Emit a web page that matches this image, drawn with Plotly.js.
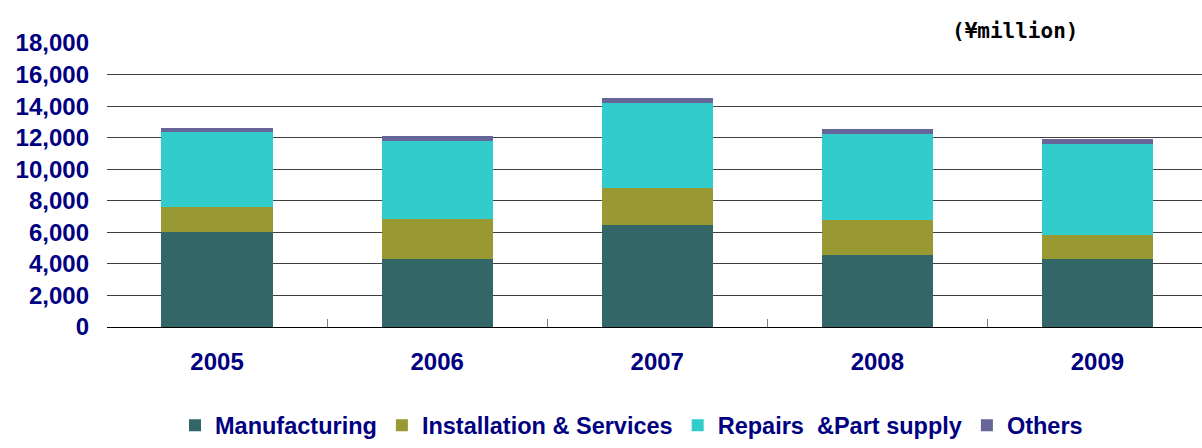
<!DOCTYPE html>
<html>
<head>
<meta charset="utf-8">
<script src="https://cdn.plot.ly/plotly-3.0.1.min.js"></script>
<style>html,body{margin:0;padding:0;overflow:hidden;background:#fff}</style>
</head>
<body>
<div id="chart" style="width:1202px;height:448px"></div>
<script>
const years = ["2005", "2006", "2007", "2008", "2009"];
const manufacturing = [6020, 4310, 6465, 4560, 4310];
const installation = [1585, 2535, 2365, 2240, 1520];
const repairs = [4750, 4945, 5365, 5430, 5770];
const others = [255, 315, 315, 315, 315];
const seriesNames = ["Manufacturing", "Installation & Services", "Repairs\u00a0 &Part supply", "Others"];
const seriesColors = ["#336666", "#999933", "#33CCCC", "#666699"];
const unitLabel = "(¥million)";

const values = [manufacturing, installation, repairs, others];
const traces = values.map((v, i) => ({
  type: "bar",
  x: years,
  y: v,
  name: seriesNames[i],
  marker: {color: seriesColors[i], line: {width: 0}},
  hoverinfo: "x+y+name"
}));

const navy = "#000080";
const layout = {
  width: 1202,
  height: 448,
  margin: {l: 107, r: 0, t: 43, b: 121, pad: 0},
  paper_bgcolor: "#ffffff",
  plot_bgcolor: "#ffffff",
  barmode: "stack",
  bargap: 0.495,
  showlegend: true,
  legend: {
    orientation: "h",
    traceorder: "normal",
    x: 0.479, xanchor: "center",
    y: -0.424, yanchor: "bottom",
    font: {family: "Liberation Sans, Arial, sans-serif", size: 23.5, color: navy, weight: "bold"},
    itemwidth: 30,
    itemclick: false
  },
  xaxis: {
    type: "category",
    range: [-0.5, 4.475],
    tickson: "boundaries",
    ticks: "inside",
    ticklen: 8,
    tickcolor: "#808080",
    tickwidth: 1,
    showline: true,
    linecolor: "#000000",
    linewidth: 1,
    showgrid: false,
    ticklabelstandoff: 13,
    tickfont: {family: "Liberation Sans, Arial, sans-serif", size: 24, color: navy, weight: "bold"},
    fixedrange: true
  },
  yaxis: {
    range: [0, 18000],
    dtick: 2000,
    tick0: 0,
    tickformat: ",d",
    showgrid: true,
    gridcolor: "#404040",
    gridwidth: 1,
    zeroline: true,
    zerolinecolor: "#000000",
    zerolinewidth: 1,
    showline: false,
    ticks: "",
    ticklabelstandoff: 17,
    tickfont: {family: "Liberation Sans, Arial, sans-serif", size: 24, color: navy, weight: "bold"},
    fixedrange: true
  },
  annotations: [{
    text: unitLabel,
    xref: "paper", yref: "paper",
    x: 0.829, y: 1.042,
    xanchor: "center", yanchor: "middle",
    showarrow: false,
    font: {family: "DejaVu Sans Mono, monospace", size: 21, color: "#000000", weight: "bold"}
  }]
};

Plotly.newPlot("chart", traces, layout, {displayModeBar: false, staticPlot: false});
</script>
</body>
</html>
